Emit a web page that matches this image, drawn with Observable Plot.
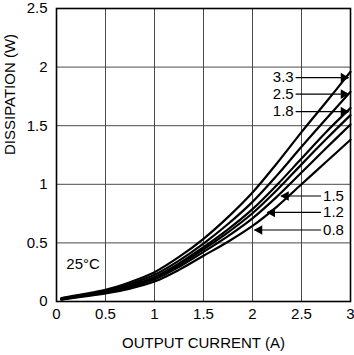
<!DOCTYPE html>
<html>
<head>
<meta charset="utf-8">
<script src="https://cdn.jsdelivr.net/npm/d3@7"></script>
<script src="https://cdn.jsdelivr.net/npm/@observablehq/plot@0.6"></script>
<style>
  html, body { margin: 0; padding: 0; background: #fff; }
  svg { font-family: "Liberation Sans", Arial, sans-serif; }
</style>
</head>
<body>
<div id="chart"></div>
<script>
// Output current (A)
const current = [0.05, 0.25, 0.5, 0.75, 1, 1.25, 1.5, 1.75, 2, 2.25, 2.5, 2.75, 3];
// Output voltage series names
const seriesNames = ["3.3", "2.5", "1.8", "1.5", "1.2", "0.8"];
// Dissipation (W) per series
const v33 = [0.03, 0.06, 0.10, 0.165, 0.25, 0.38, 0.535, 0.72, 0.93, 1.18, 1.445, 1.70, 1.96];
const v25 = [0.026, 0.054, 0.091, 0.15, 0.228, 0.349, 0.494, 0.661, 0.85, 1.076, 1.32, 1.557, 1.79];
const v18 = [0.022, 0.05, 0.084, 0.138, 0.21, 0.325, 0.463, 0.615, 0.788, 0.995, 1.22, 1.445, 1.65];
const v15 = [0.021, 0.048, 0.08, 0.131, 0.20, 0.312, 0.445, 0.59, 0.753, 0.951, 1.17, 1.384, 1.59];
const v12 = [0.018, 0.045, 0.075, 0.123, 0.188, 0.295, 0.423, 0.558, 0.71, 0.895, 1.10, 1.307, 1.51];
const v08 = [0.015, 0.04, 0.068, 0.11, 0.17, 0.27, 0.39, 0.51, 0.645, 0.81, 1.0, 1.19, 1.38];
const seriesValues = [v33, v25, v18, v15, v12, v08];

// Tick values
const xTicks = [0, 0.5, 1, 1.5, 2, 2.5, 3];
const yTicks = [0, 0.5, 1, 1.5, 2, 2.5];

// Axis titles and annotation
const xTitle = "OUTPUT CURRENT (A)";
const yTitle = "DISSIPATION (W)";
const tempNote = "25°C";

// Callout labels (data units)
const calloutY = [1.91, 1.77, 1.62, 0.90, 0.76, 0.61];
const calloutTextX = [2.42, 2.42, 2.42, 2.72, 2.72, 2.72];
const calloutFromX = [2.44, 2.44, 2.44, 2.70, 2.70, 2.70];
const calloutTipX = [2.98, 2.98, 2.98, 2.29, 2.15, 2.02];

const data = seriesNames.flatMap((s, i) =>
  current.map((x, j) => ({series: s, x, y: seriesValues[i][j]}))
);
const callouts = seriesNames.map((s, i) => ({
  name: s,
  y: calloutY[i],
  tx: calloutTextX[i],
  x1: calloutFromX[i],
  x2: calloutTipX[i],
  right: i < 3
}));

const chart = Plot.plot({
  width: 354,
  height: 355,
  marginLeft: 56,
  marginRight: 4,
  marginTop: 8,
  marginBottom: 54,
  style: {fontSize: "15px", fontFamily: "'Liberation Sans', Arial, sans-serif", color: "black", background: "white"},
  x: {
    domain: [0, 3],
    ticks: xTicks,
    tickSize: 0,
    tickPadding: 7,
    tickFormat: d => String(d),
    label: null
  },
  y: {
    domain: [0, 2.5],
    ticks: yTicks,
    tickSize: 0,
    tickPadding: 9,
    tickFormat: d => String(d),
    label: null
  },
  marks: [
    Plot.ruleX(xTicks, {stroke: "#4a4a4a", strokeWidth: 1}),
    Plot.ruleY(yTicks, {stroke: "#4a4a4a", strokeWidth: 1}),
    Plot.line(data, {x: "x", y: "y", z: "series", stroke: "black", strokeWidth: 2.2, curve: "catmull-rom"}),
    Plot.link(callouts, {x1: "x1", x2: "x2", y1: "y", y2: "y", stroke: "black", strokeWidth: 1.2}),
    Plot.dot(callouts.filter(d => d.right), {x: "x2", y: "y", symbol: "triangle", r: 3.6, fill: "black", stroke: "none", rotate: 90, dx: -5}),
    Plot.dot(callouts.filter(d => !d.right), {x: "x2", y: "y", symbol: "triangle", r: 3.6, fill: "black", stroke: "none", rotate: -90, dx: 5}),
    Plot.text(callouts.filter(d => d.right), {x: "tx", y: "y", text: "name", textAnchor: "end", fill: "black", fontSize: 15}),
    Plot.text(callouts.filter(d => !d.right), {x: "tx", y: "y", text: "name", textAnchor: "start", fill: "black", fontSize: 15}),
    Plot.text([tempNote], {x: 0.10, y: 0.32, text: d => d, textAnchor: "start", fill: "black", fontSize: 15}),
    Plot.text([xTitle], {frameAnchor: "bottom", dy: 46, text: d => d, fill: "black", fontSize: 15}),
    Plot.text([yTitle], {frameAnchor: "left", dx: -46, rotate: -90, text: d => d, fill: "black", fontSize: 15}),
    Plot.frame({stroke: "black", strokeWidth: 1.6})
  ]
});
document.getElementById("chart").appendChild(chart);
</script>
</body>
</html>
